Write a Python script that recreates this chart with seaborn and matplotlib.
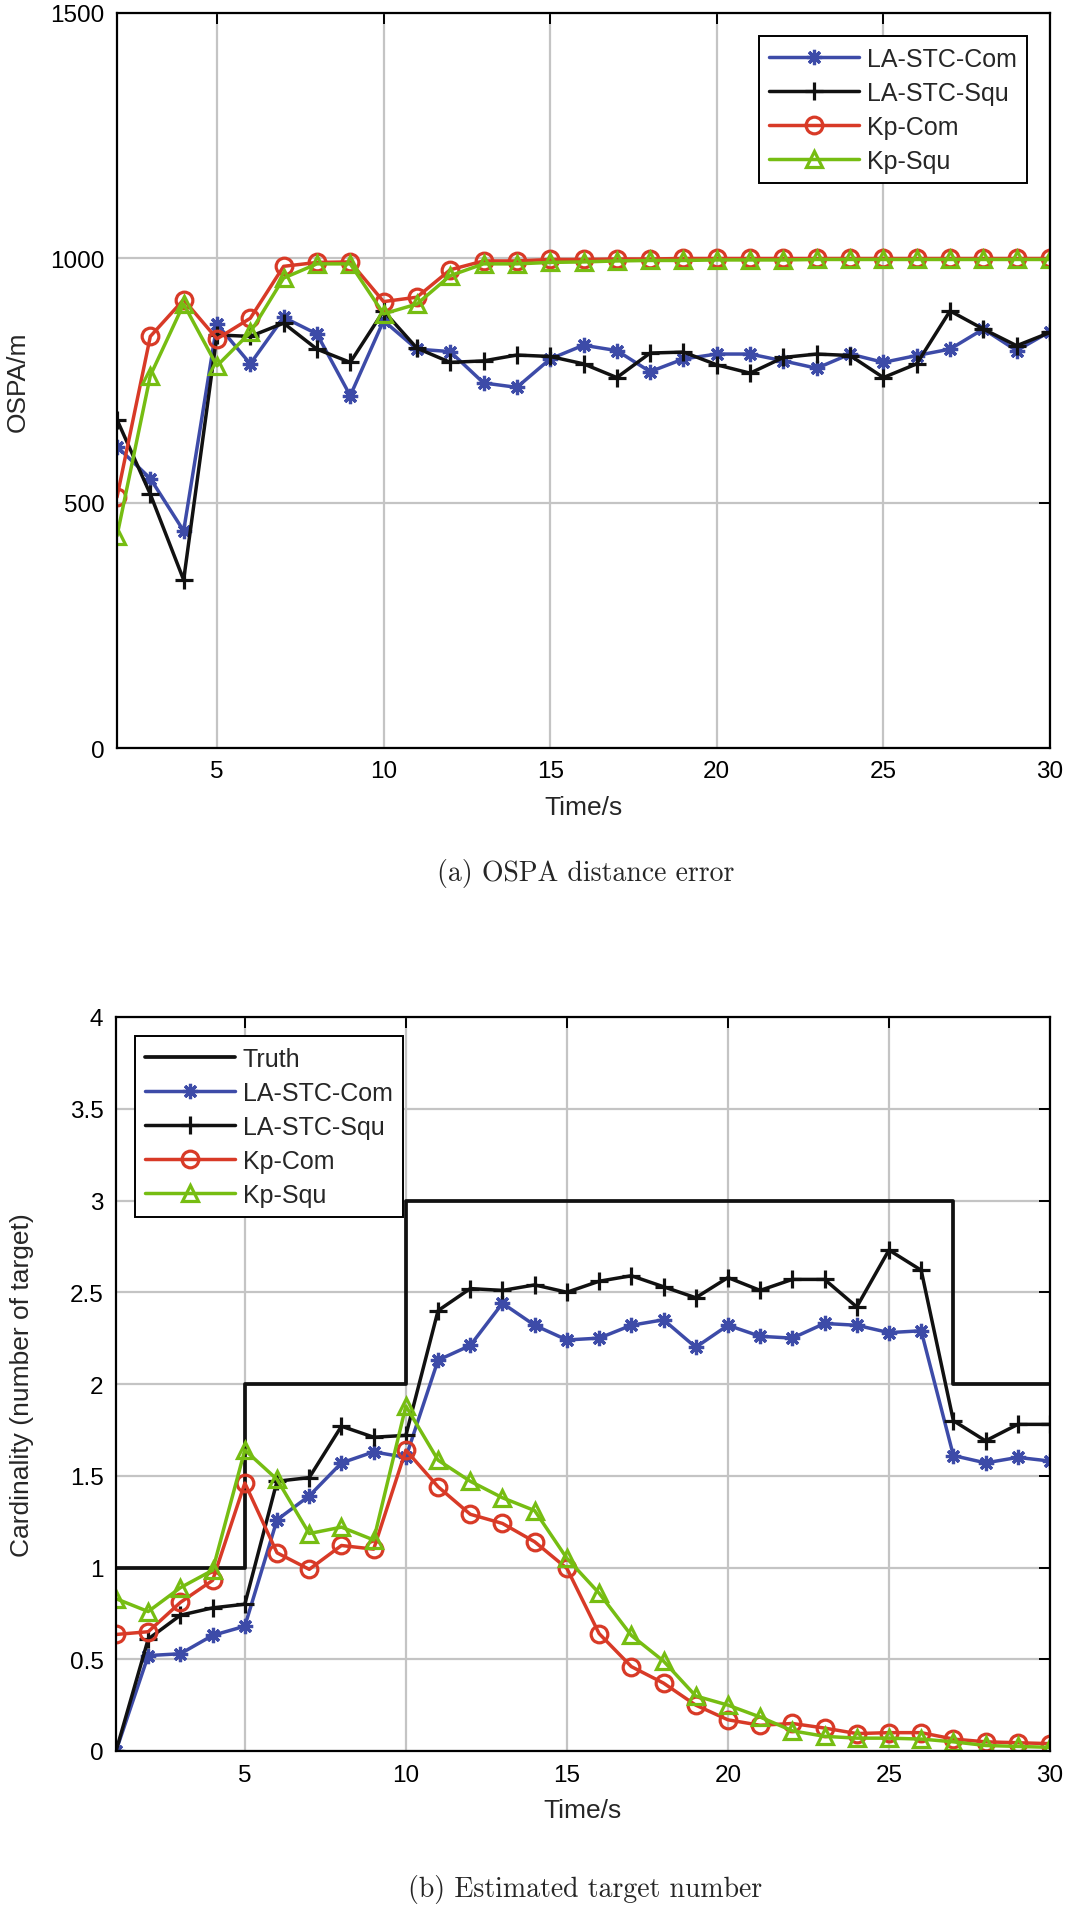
import matplotlib
matplotlib.use("Agg")
import matplotlib.pyplot as plt
import seaborn as sns
import numpy as np
import pandas as pd

# ---------------- data ----------------
t_ospa = list(range(2, 31))
ospa_la_com = [615, 550, 443, 865, 784, 879, 845, 719, 872, 814, 809, 745, 736, 794, 822,
               811, 768, 794, 804, 804, 790, 775, 804, 787, 801, 814, 855, 811, 850]
ospa_la_squ = [670, 518, 343, 843, 840, 867, 814, 787, 892, 816, 787, 790, 802, 799, 784,
               756, 806, 808, 782, 765, 797, 804, 801, 756, 784, 892, 855, 821, 848]
ospa_kp_com = [512, 840, 915, 835, 877, 983, 991, 992, 911, 920, 976, 994, 994, 997, 997,
               998, 998, 999, 999, 999, 999, 999, 999, 999, 999, 999, 999, 999, 999]
ospa_kp_squ = [433, 760, 906, 780, 848, 959, 988, 988, 886, 906, 964, 988, 988, 991, 992,
               994, 995, 995, 996, 996, 996, 997, 997, 997, 997, 997, 997, 997, 997]

t_card = list(range(1, 31))
card_truth = [1, 1, 1, 1, 2, 2, 2, 2, 2, 3, 3, 3, 3, 3, 3, 3, 3, 3, 3, 3, 3, 3, 3, 3, 3, 3,
              2, 2, 2, 2]
card_la_com = [0, 0.52, 0.53, 0.63, 0.68, 1.26, 1.39, 1.57, 1.63, 1.60, 2.13, 2.21, 2.44, 2.32,
               2.24, 2.25, 2.32, 2.35, 2.20, 2.32, 2.26, 2.25, 2.33, 2.32, 2.28, 2.29, 1.61,
               1.57, 1.60, 1.58]
card_la_squ = [0, 0.61, 0.74, 0.78, 0.80, 1.47, 1.49, 1.77, 1.71, 1.72, 2.40, 2.52, 2.51, 2.54,
               2.50, 2.56, 2.59, 2.53, 2.47, 2.58, 2.51, 2.57, 2.57, 2.42, 2.73, 2.62, 1.80,
               1.69, 1.78, 1.78]
card_kp_com = [0.635, 0.65, 0.81, 0.93, 1.46, 1.08, 0.99, 1.12, 1.10, 1.64, 1.44, 1.29, 1.24,
               1.14, 0.995, 0.64, 0.46, 0.37, 0.25, 0.17, 0.14, 0.15, 0.125, 0.095, 0.10, 0.10,
               0.065, 0.05, 0.045, 0.04]
card_kp_squ = [0.83, 0.76, 0.89, 0.985, 1.64, 1.48, 1.185, 1.22, 1.15, 1.88, 1.585, 1.47, 1.38,
               1.31, 1.05, 0.86, 0.63, 0.49, 0.30, 0.25, 0.185, 0.11, 0.08, 0.07, 0.07, 0.065,
               0.05, 0.03, 0.025, 0.02]

series_names = ["LA-STC-Com", "LA-STC-Squ", "Kp-Com", "Kp-Squ"]
ospa_ticks_x = [5, 10, 15, 20, 25, 30]
ospa_ticks_y = [0, 500, 1000, 1500]
card_ticks_y = [0, 0.5, 1, 1.5, 2, 2.5, 3, 3.5, 4]
card_tick_labels = ["0", "0.5", "1", "1.5", "2", "2.5", "3", "3.5", "4"]

# ---------------- style ----------------
sns.set_theme(style="white")
plt.rcParams["font.family"] = ["Liberation Sans", "DejaVu Sans"]

colors = ["#3D4BA8", "#111111", "#D83A27", "#76BD12"]
markers = [(8, 2, 0), "+", "o", "^"]
msizes = [11, 13, 12, 12]

fig = plt.figure(figsize=(10.72, 19.24), dpi=100)
ax1 = fig.add_axes([117 / 1072, 1 - 749 / 1924, (1050 - 117) / 1072, (749 - 14) / 1924])
ax2 = fig.add_axes([116 / 1072, 1 - 1752 / 1924, (1050 - 116) / 1072, (1752 - 1018) / 1924])


def style_axes(ax):
    ax.grid(True, color="#c4c4c4", lw=1.6)
    ax.set_axisbelow(True)
    for sp in ax.spines.values():
        sp.set_color("black")
        sp.set_linewidth(1.6)
        sp.set_visible(True)
    ax.tick_params(direction="in", length=8, width=1.4, top=True, right=True,
                   labelsize=17.5, colors="black", pad=9)


def draw(ax, x, ys):
    for name, y, c, m, ms in zip(series_names, ys, colors, markers, msizes):
        df = pd.DataFrame({"t": x, "v": y})
        sns.lineplot(data=df, x="t", y="v", ax=ax, color=c, lw=2.5, marker=m, ms=ms,
                     markerfacecolor="none", markeredgecolor=c, markeredgewidth=2.3,
                     label=name)


legend_kw = dict(borderaxespad=0, fontsize=18, handlelength=3.6, handletextpad=0.3,
                 labelspacing=0.4, borderpad=0.42, fancybox=False, framealpha=1,
                 edgecolor="black")

# ---- top: OSPA ----
draw(ax1, t_ospa, [ospa_la_com, ospa_la_squ, ospa_kp_com, ospa_kp_squ])
ax1.set_xlim(2, 30)
ax1.set_ylim(0, 1500)
ax1.set_xticks(ospa_ticks_x)
ax1.set_yticks(ospa_ticks_y)
style_axes(ax1)
ax1.set_xlabel("Time/s", fontsize=19, labelpad=9)
ax1.set_ylabel("OSPA/m", fontsize=19)
ax1.yaxis.set_label_coords(-0.094, 0.5)
leg1 = ax1.legend(loc="upper right", bbox_to_anchor=(0.9754, 0.9687), **legend_kw)
leg1.get_frame().set_linewidth(1.4)

# ---- bottom: cardinality ----
df_truth = pd.DataFrame({"t": t_card, "v": card_truth})
sns.lineplot(data=df_truth, x="t", y="v", ax=ax2, color="#111111", lw=2.7,
             drawstyle="steps-post", label="Truth")
draw(ax2, t_card, [card_la_com, card_la_squ, card_kp_com, card_kp_squ])
ax2.set_xlim(1, 30)
ax2.set_ylim(0, 4)
ax2.set_xticks(ospa_ticks_x)
ax2.set_yticks(card_ticks_y)
ax2.set_yticklabels(card_tick_labels)
style_axes(ax2)
ax2.set_xlabel("Time/s", fontsize=19, labelpad=9)
ax2.set_ylabel("Cardinality (number of target)", fontsize=19)
ax2.yaxis.set_label_coords(-0.088, 0.5)
leg2 = ax2.legend(loc="upper left", bbox_to_anchor=(0.0203, 0.974), **legend_kw)
leg2.get_frame().set_linewidth(1.4)

# ---- captions ----
fig.text(0.546, 1 - 873 / 1924, "(a) OSPA distance error", family=["cmr10", "DejaVu Serif"],
         fontsize=20, ha="center", va="center")
fig.text(0.546, 1 - 1890 / 1924, "(b) Estimated target number", family=["cmr10", "DejaVu Serif"],
         fontsize=20, ha="center", va="center")

fig.savefig("out.png", dpi=100)
